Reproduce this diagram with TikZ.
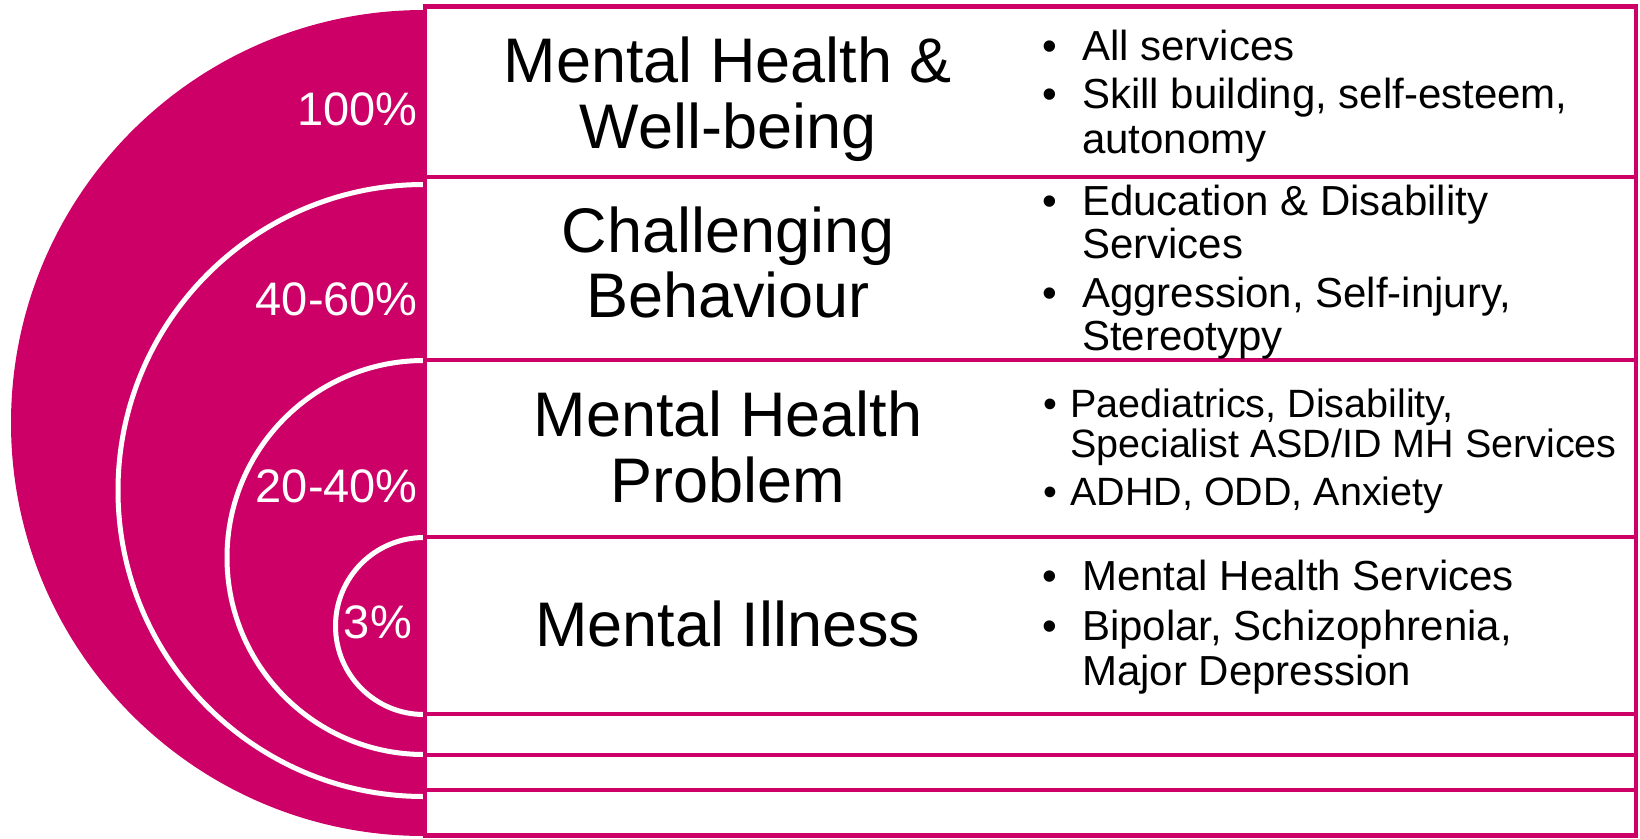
\documentclass[tikz,border=0pt]{standalone}
\usepackage{fontspec}
\setmainfont{Liberation Sans}
\definecolor{mag}{RGB}{204,0,102}
\tikzset{
  pct/.style={text=white, font=\fontsize{47}{47}\selectfont, anchor=base east, inner sep=0pt},
  ttl/.style={text=black, font=\fontsize{63}{63}\selectfont, anchor=base, inner sep=0pt},
  itm/.style={text=black, font=\fontsize{42}{42}\selectfont, anchor=base west, inner sep=0pt},
  bul/.style={text=black, font=\fontsize{42}{42}\selectfont, anchor=base, inner sep=0pt},
  itms/.style={itm, font=\fontsize{39.5}{39.5}\selectfont},
  buls/.style={bul, font=\fontsize{39.5}{39.5}\selectfont},
  ring/.style={draw=white, line width=5pt},
  rule/.style={draw=mag, line width=4.5pt},
}
\begin{document}
\begin{tikzpicture}[x=1pt,y=-1pt]
\useasboundingbox (0,0) rectangle (1640,838);
\fill[white] (0,0) rectangle (1640,838);
% half disc
\fill[mag] (424,10) arc[start angle=90,end angle=270,radius=413pt] -- cycle;
% white rings
\draw[ring] (424,184.5) arc[start angle=90,end angle=270,radius=306pt];
\draw[ring] (424,360.5) arc[start angle=90,end angle=270,radius=197pt];
\draw[ring] (424,537.5) arc[start angle=90,end angle=270,radius=88.5pt];
% table
\coordinate (tl) at (425,6.5);
\coordinate (tr) at (1636,6.5);
\coordinate (bl) at (425,835.5);
\coordinate (br) at (1636,835.5);
\foreach \yy in {177,360,537,714,755,790}{
  \draw[rule] (425,\yy) -- (1636,\yy);
}
\draw[rule] (tl) -- (tr) -- (br) -- (bl) -- cycle;
% percentages
\node[pct] (p1) at (418,125) {100\%};
\node[pct] (p2) at (418,315) {40-60\%};
\node[pct] (p3) at (418,502) {20-40\%};
\node[pct] (p4) at (412,638) {3\%};
% titles
\node[ttl] (t1a) at (728,82) {Mental Health \&};
\node[ttl] (t1b) at (728,148) {Well-being};
\node[ttl] (t2a) at (728,252) {Challenging};
\node[ttl] (t2b) at (728,317) {Behaviour};
\node[ttl] (t3a) at (728,436) {Mental Health};
\node[ttl] (t3b) at (728,502) {Problem};
\node[ttl] (t4a) at (728,646) {Mental Illness};
% row 1 items
\node[bul] (b1a) at (1050,60) {•};
\node[itm] (i1a) at (1082,60) {All services};
\node[bul] (b1b) at (1050,108) {•};
\node[itm] (i1b) at (1082,108) {Skill building, self-esteem,};
\node[itm] (i1c) at (1082,153) {autonomy};
% row 2 items
\node[bul] (b2a) at (1050,215) {•};
\node[itm] (i2a) at (1082,215) {Education \& Disability};
\node[itm] (i2b) at (1082,258) {Services};
\node[bul] (b2b) at (1050,307) {•};
\node[itm] (i2c) at (1082,307) {Aggression, Self-injury,};
\node[itm] (i2d) at (1082,350) {Stereotypy};
% row 3 items
\node[buls] (b3a) at (1050,417) {•};
\node[itms] (i3a) at (1070,417) {Paediatrics, Disability,};
\node[itms] (i3b) at (1070,457) {Specialist ASD/ID MH Services};
\node[buls] (b3b) at (1050,505) {•};
\node[itms] (i3c) at (1070,505) {ADHD, ODD, Anxiety};
% row 4 items
\node[bul] (b4a) at (1050,590) {•};
\node[itm] (i4a) at (1082,590) {Mental Health Services};
\node[bul] (b4b) at (1050,640) {•};
\node[itm] (i4b) at (1082,640) {Bipolar, Schizophrenia,};
\node[itm] (i4c) at (1082,685) {Major Depression};
\end{tikzpicture}
\end{document}
